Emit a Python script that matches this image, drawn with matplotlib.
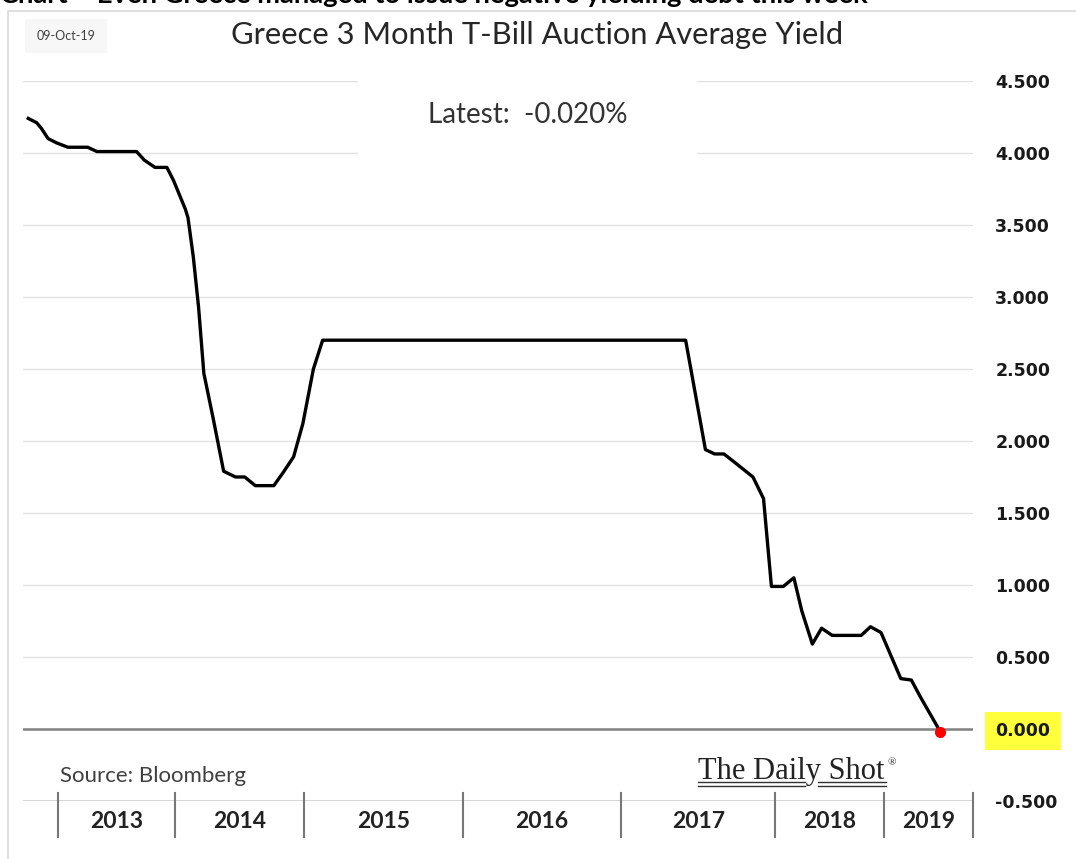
import numpy as np
import matplotlib
matplotlib.use("Agg")
from matplotlib import pyplot as plt
from matplotlib.patches import Rectangle
from matplotlib.lines import Line2D

# auction index (position along the category axis) and average yield, %
obs = [0.0, 0.64, 1.0, 1.5, 2.15, 3.0, 4.5, 5.2, 8.2, 8.8, 9.6, 10.5, 11.0,
       11.9, 12.1, 12.5, 12.9, 13.3, 14.0, 14.8, 15.7, 16.4, 17.2, 18.6,
       19.3, 20.1, 20.8, 21.6, 22.3, 49.8, 51.3, 52.0, 52.7, 53.4, 54.9,
       55.7, 56.3, 57.2, 58.0, 58.6, 59.4, 60.1, 60.9, 63.1, 63.8, 64.6,
       66.1, 66.9, 67.6, 69.1]
yields = [4.24, 4.21, 4.17, 4.10, 4.07, 4.04, 4.04, 4.01, 4.01, 3.95, 3.90,
          3.90, 3.81, 3.61, 3.55, 3.28, 2.93, 2.47, 2.16, 1.79, 1.75, 1.75,
          1.69, 1.69, 1.78, 1.89, 2.12, 2.50, 2.70, 2.70, 1.94, 1.91, 1.91,
          1.86, 1.75, 1.60, 0.99, 0.99, 1.05, 0.82, 0.59, 0.70, 0.65, 0.65,
          0.71, 0.67, 0.35, 0.34, 0.22, -0.02]

years = ["2013", "2014", "2015", "2016", "2017", "2018", "2019"]
year_edges = [2.25, 11.11, 20.9, 32.9, 44.9, 56.6, 64.8, 71.57]
yticks = [-0.5, 0.0, 0.5, 1.0, 1.5, 2.0, 2.5, 3.0, 3.5, 4.0, 4.5]

W, H = 1076, 859
fig = plt.figure(figsize=(W / 100, H / 100), dpi=100)
ax = fig.add_axes([23 / W, (H - 801) / H, 950 / W, 720 / H])

def fx(px):
    return px / W

def fy(py):
    return 1 - py / H

# gridlines
for v in yticks:
    if v == 0:
        ax.axhline(v, color="#808080", lw=1.8, zorder=2)
    elif v == -0.5:
        ax.axhline(v, color="#d0d0d0", lw=1.2, zorder=1)
    else:
        ax.axhline(v, color="#e2e2e2", lw=1.0, zorder=1)

ax.plot(obs, yields, color="black", lw=2.4, zorder=4, solid_joinstyle="round")
ax.plot(obs[-1], yields[-1], "o", color="#ff0000", ms=7, zorder=5)

ax.set_xlim(-0.40, 71.57)
ax.set_ylim(-0.5, 4.5)

ax.yaxis.tick_right()
ax.set_yticks(yticks)
ax.set_yticklabels(["%.3f" % v for v in yticks])
ax.tick_params(axis="y", length=0, pad=16, labelsize=12.5)
for lab in ax.get_yticklabels():
    lab.set_fontweight("bold")
    lab.set_color("#1a1a1a")
    if lab.get_text() == "0.000":
        lab.set_bbox(dict(facecolor="#ffff3c", edgecolor="none", pad=7.5))
ax.set_xticks([])
for s in ax.spines.values():
    s.set_visible(False)

# year category axis
trans = ax.get_xaxis_transform()
for e in year_edges:
    ax.plot([e, e], [0.011, -0.05], color="#777777", lw=1.5,
            transform=trans, clip_on=False)
for i, yr in enumerate(years):
    mid = (year_edges[i] + year_edges[i + 1]) / 2
    ax.text(mid, -0.028, yr, transform=trans, ha="center", va="center",
            fontsize=16.5, fontweight="bold", family="Lato", color="#222222")

# white box behind "Latest"
ax.add_patch(Rectangle((0.3526, 0.883), 0.357, 0.14, transform=ax.transAxes,
                       facecolor="white", edgecolor="none", zorder=3,
                       clip_on=False))
ax.text(0.531, 0.953, "Latest:  -0.020%", transform=ax.transAxes,
        ha="center", va="center", fontsize=20, family="Lato",
        color="#333333", zorder=6)

# frame
fig.add_artist(Rectangle((fx(8), -0.1), 1.2, fy(11) + 0.1,
                         transform=fig.transFigure, facecolor="none",
                         edgecolor="#d9d9d9", lw=1.2))

fig.text(0.0, fy(3), "Chart \u2013 Even Greece managed to issue negative yielding debt this week",
         ha="left", va="baseline", fontsize=19.7, fontweight="bold",
         family="Lato", color="black")

fig.text(fx(537.5), fy(44), "Greece 3 Month T-Bill Auction Average Yield",
         ha="center", va="baseline", fontsize=22.2, family="Lato",
         color="#262626")
fig.text(fx(66), fy(36), "09-Oct-19", ha="center", va="center",
         fontsize=9, family="Lato", color="#404040",
         bbox=dict(facecolor="#f7f7f7", edgecolor="none", pad=8))

fig.text(fx(60), fy(782), "Source: Bloomberg", ha="left", va="baseline",
         fontsize=16, family="Lato", color="#404040")
fig.text(fx(698), fy(779), "The Daily Shot", ha="left", va="baseline",
         fontsize=22, family="Liberation Serif", color="#222222")
fig.text(fx(887), fy(765), "\u00ae", ha="left", va="baseline",
         fontsize=8, family="Liberation Serif", color="#222222")
for py in (782, 785.5):
    fig.add_artist(Line2D([fx(698), fx(805)], [fy(py), fy(py)],
                          color="#333333", lw=1.0))
    fig.add_artist(Line2D([fx(818), fx(886)], [fy(py), fy(py)],
                          color="#333333", lw=1.0))

fig.savefig("out.png", dpi=100)
